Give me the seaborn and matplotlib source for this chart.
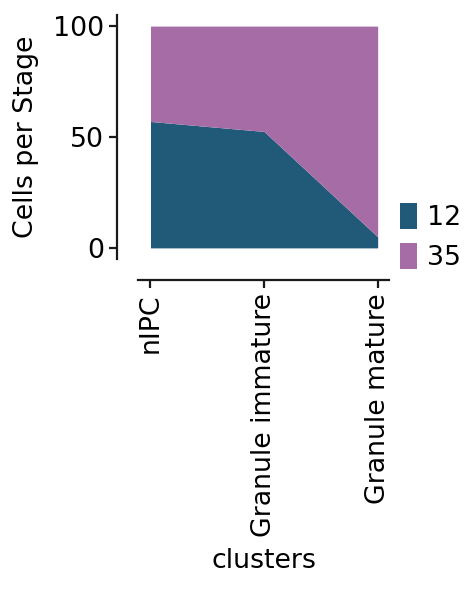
import matplotlib
matplotlib.use("Agg")
import matplotlib.pyplot as plt
import seaborn as sns
import numpy as np

clusters = ["nIPC", "Granule immature", "Granule mature"]
stage_12 = [57, 52.5, 5]
stage_35 = [43, 47.5, 95]
series_labels = ["12", "35"]
colors = ["#215979", "#A66CA5"]

sns.set_theme(style="ticks")
plt.rcParams['font.family'] = ['DejaVu Sans']
plt.rcParams.update({
    "axes.linewidth": 1.6,
    "xtick.major.width": 1.6,
    "ytick.major.width": 1.6,
    "xtick.major.size": 6,
    "ytick.major.size": 6,
    "axes.edgecolor": "#1a1a1a",
    "text.color": "black",
    "axes.labelcolor": "black",
    "xtick.color": "#1a1a1a",
    "ytick.color": "#1a1a1a",
    "xtick.labelcolor": "black",
    "ytick.labelcolor": "black",
})

fs = 19.3
fig = plt.figure(figsize=(4.75, 5.91), dpi=100)
ax = fig.add_axes([0.2905, 0.5618, 0.819 - 0.2905, 0.9746 - 0.5618])
sns.despine(ax=ax, offset=15)
x = np.arange(len(clusters))
ax.stackplot(x, stage_12, stage_35, colors=colors, labels=series_labels, linewidth=0)
ax.set_xlim(-0.11, 2.1)
ax.set_ylim(-5, 105)
ax.set_yticks([0, 50, 100])
ax.set_xticks(x)
ax.set_xticklabels(clusters, rotation=90, fontsize=fs)
ax.tick_params(axis="y", labelsize=fs)
ax.set_ylabel("Cells per Stage", fontsize=fs, labelpad=10)
ax.set_xlabel("clusters", fontsize=fs, labelpad=8)
leg = ax.legend(loc="lower left", bbox_to_anchor=(0.948, -0.15), frameon=False,
                fontsize=fs, handlelength=0.62, handleheight=1.1,
                handletextpad=0.4, labelspacing=0.45)
fig.savefig("out.png", dpi=100)
